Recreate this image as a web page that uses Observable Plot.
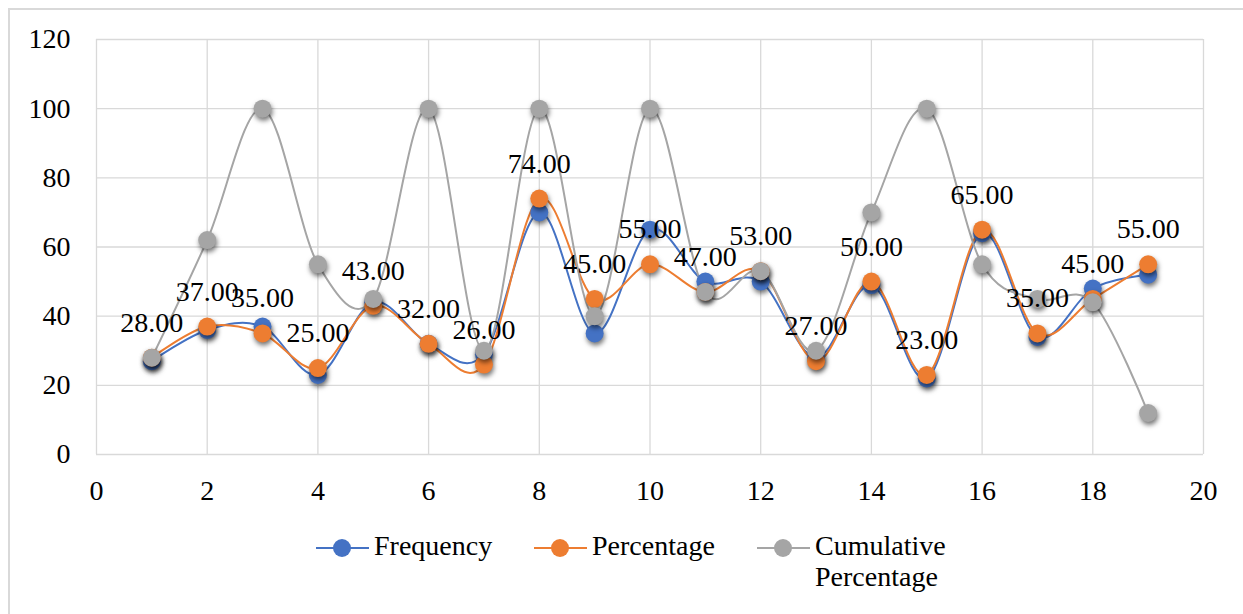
<!DOCTYPE html>
<html>
<head>
<meta charset="utf-8">
<script src="https://cdn.jsdelivr.net/npm/d3@7"></script>
<script src="https://cdn.jsdelivr.net/npm/@observablehq/plot@0.6"></script>
<style>
  html, body { margin: 0; padding: 0; background: #fff; width: 1243px; height: 614px; overflow: hidden; }
  #frame { position: absolute; left: 8px; top: 8px; width: 1300px; height: 700px; border: 2px solid #d9d9d9; box-sizing: border-box; }
  #chart { position: absolute; left: 0; top: 0; }
  #chart svg, #chart svg text { font-family: 'Liberation Serif', 'Times New Roman', Times, serif !important; }
  #legend { position: absolute; left: 0; top: 530px; width: 1243px; height: 80px; font-family: 'Liberation Serif', 'Times New Roman', Times, serif; font-size: 28px; color: #000; }
  .item { position: absolute; top: 0; display: flex; align-items: flex-start; }
  .item svg { flex: none; margin-top: 6px; }
  .item span { line-height: 31px; margin-left: 5px; }
</style>
</head>
<body>
<div id="frame"></div>
<div id="chart"></div>
<div id="legend"></div>
<script>
// ---- data ----
const categories = [1, 2, 3, 4, 5, 6, 7, 8, 9, 10, 11, 12, 13, 14, 15, 16, 17, 18, 19];
const frequency  = [27, 36, 37, 23, 44, 32, 29, 70, 35, 65, 50, 50, 28, 49, 22, 64, 34, 48, 52];
const percentage = [28, 37, 35, 25, 43, 32, 26, 74, 45, 55, 47, 53, 27, 50, 23, 65, 35, 45, 55];
const cumulative = [28, 62, 100, 55, 45, 100, 30, 100, 40, 100, 47, 53, 30, 70, 100, 55, 45, 44, 12];
const seriesNames = ["Frequency", "Percentage", "Cumulative Percentage"];
const seriesColors = ["#4472C4", "#ED7D31", "#A5A5A5"];
const xTicks = [0, 2, 4, 6, 8, 10, 12, 14, 16, 18, 20];
const yTicks = [0, 20, 40, 60, 80, 100, 120];

const seriesValues = [frequency, percentage, cumulative];
const rows = seriesValues.map((vals, s) =>
  categories.map((c, i) => ({x: c, y: vals[i], series: seriesNames[s]})));
const pctRows = rows[1];

const gridColor = "#d9d9d9";

const marks = [
  Plot.gridY(yTicks, {stroke: gridColor, strokeOpacity: 1, strokeWidth: 1.3}),
  Plot.gridX(xTicks, {stroke: gridColor, strokeOpacity: 1, strokeWidth: 1.3}),
  Plot.axisY(yTicks, {tickSize: 0, tickPadding: 26, fontSize: 28, fill: "#000", label: null}),
  Plot.axisX(xTicks, {tickSize: 0, tickPadding: 26, fontSize: 28, fill: "#000", label: null})
];
rows.forEach((r, s) => {
  marks.push(Plot.line(r, {x: "x", y: "y", stroke: seriesColors[s], strokeWidth: 2, curve: "cardinal"}));
});
rows.forEach((r, s) => {
  marks.push(Plot.dot(r, {x: "x", y: "y", r: 9, fill: seriesColors[s], stroke: "none"}));
});
marks.push(Plot.text(pctRows, {x: "x", y: "y", text: d => d.y.toFixed(2), dy: -35, fontSize: 28, fill: "#000"}));

const chart = Plot.plot({
  width: 1243,
  height: 510,
  marginLeft: 96,
  marginRight: 40,
  marginTop: 39,
  marginBottom: 56,
  style: {background: "transparent", overflow: "visible"},
  x: {domain: [0, 20], label: null},
  y: {domain: [0, 120], label: null},
  marks
});
chart.querySelectorAll("circle").forEach(c => {
  c.style.filter = "drop-shadow(1px 3px 2.5px rgba(0,0,0,0.55))";
});
document.getElementById("chart").appendChild(chart);

// ---- legend ----
const legendLeft = [316, 534, 757];
const legendLabels = [["Frequency"], ["Percentage"], ["Cumulative", "Percentage"]];
const legend = document.getElementById("legend");
seriesNames.forEach((name, i) => {
  const item = document.createElement("div");
  item.className = "item";
  item.style.left = legendLeft[i] + "px";
  const sw = d3.create("svg").attr("width", 53).attr("height", 24);
  sw.append("line").attr("x1", 0).attr("x2", 53).attr("y1", 12).attr("y2", 12)
    .attr("stroke", seriesColors[i]).attr("stroke-width", 2);
  sw.append("circle").attr("cx", 26).attr("cy", 12).attr("r", 9).attr("fill", seriesColors[i]);
  item.appendChild(sw.node());
  const span = document.createElement("span");
  span.innerHTML = legendLabels[i].join("<br>");
  item.appendChild(span);
  legend.appendChild(item);
});
</script>
</body>
</html>
